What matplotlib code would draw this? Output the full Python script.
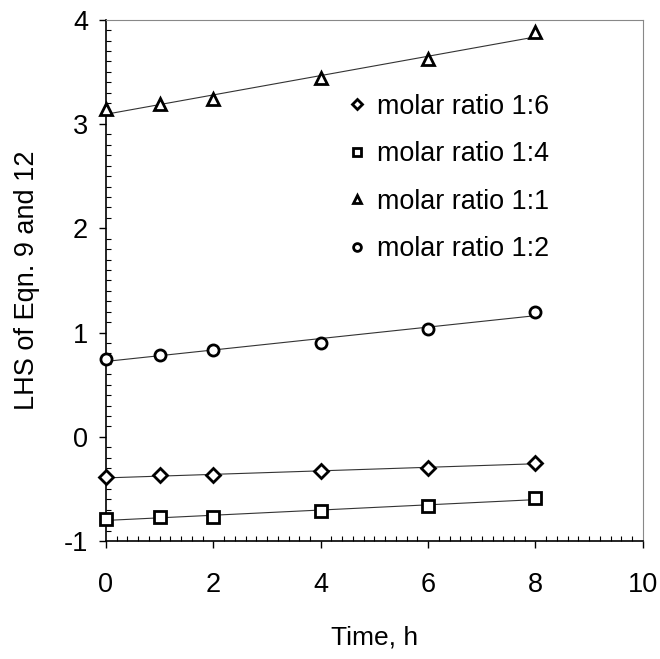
import numpy as np
import matplotlib
matplotlib.use("Agg")
import matplotlib.pyplot as plt
from matplotlib.ticker import MultipleLocator

plt.rcParams['font.family'] = ['Liberation Sans', 'DejaVu Sans']
plt.rcParams['axes.unicode_minus'] = False

time_h = [0, 1, 2, 4, 6, 8]
ratio_1_6 = [-0.39, -0.37, -0.37, -0.33, -0.30, -0.25]
ratio_1_4 = [-0.79, -0.77, -0.77, -0.71, -0.66, -0.59]
ratio_1_1 = [3.14, 3.19, 3.24, 3.44, 3.62, 3.88]
ratio_1_2 = [0.75, 0.78, 0.83, 0.90, 1.03, 1.20]
labels = ['molar ratio 1:6', 'molar ratio 1:4', 'molar ratio 1:1', 'molar ratio 1:2']
markers = ['D', 's', '^', 'o']
msizes = [7, 8, 9, 8]

fig = plt.figure(figsize=(6.6, 6.59), dpi=100)
ax = fig.add_axes([0.1606, 0.179, 0.8134, 0.791])

series = [ratio_1_6, ratio_1_4, ratio_1_1, ratio_1_2]
t = np.array(time_h, dtype=float)
handles = []
for ys, m, ms, lab in zip(series, markers, msizes, labels):
    ys = np.array(ys)
    k, b = np.polyfit(t, ys, 1)
    ax.plot([0, 8], [b, b + 8 * k], color='#333333', lw=0.8, zorder=2)
    h, = ax.plot(t, ys, linestyle='none', marker=m, ms=ms, mfc='white',
                 mec='black', mew=2.0, label=lab, zorder=3, clip_on=False)
    handles.append(h)

ax.set_xlim(0, 10)
ax.set_ylim(-1, 4)
ax.xaxis.set_major_locator(MultipleLocator(2))
ax.xaxis.set_minor_locator(MultipleLocator(0.2))
ax.yaxis.set_major_locator(MultipleLocator(1))
ax.yaxis.set_minor_locator(MultipleLocator(0.1))
ax.tick_params(axis='both', which='major', direction='out', length=5, width=1,
               labelsize=19.5)
ax.tick_params(axis='x', which='major', pad=17)
ax.tick_params(axis='y', which='major', pad=8)
ax.tick_params(axis='both', which='minor', direction='in', length=3.5, width=0.8)

for s in ['left', 'bottom']:
    ax.spines[s].set_linewidth(1.2)
    ax.spines[s].set_color('black')
for s in ['top', 'right']:
    ax.spines[s].set_linewidth(0.8)
    ax.spines[s].set_color('#888888')

ax.set_xlabel('Time, h', fontsize=19, labelpad=20)
ax.set_ylabel('LHS of Eqn. 9 and 12', fontsize=19.5, labelpad=17)

leg = ax.legend(handles=handles, loc='upper left', bbox_to_anchor=(0.432, 0.879),
                frameon=False, fontsize=19.4, handlelength=0.6, handletextpad=0.45,
                labelspacing=0.8, markerscale=0.7, borderaxespad=0)

fig.savefig('out.png', dpi=100)
